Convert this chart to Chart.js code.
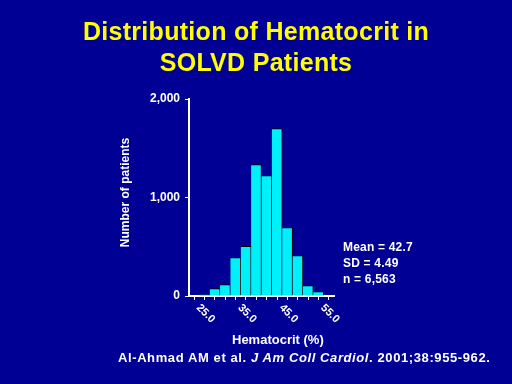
<!DOCTYPE html>
<html>
<head>
<meta charset="utf-8">
<script src="https://cdn.jsdelivr.net/npm/chart.js@4.4.0/dist/chart.umd.min.js"></script>
<style>
    html, body { margin: 0; padding: 0; background: #000094; }
    #wrap {
        position: relative; width: 512px; height: 384px; overflow: hidden;
        font-family: "Liberation Sans", Arial, sans-serif; font-weight: bold; color: #fff;
    }
    #wrap canvas { position: absolute; left: 0; top: 0; }
    .note { position: absolute; white-space: nowrap; }
    #title {
        left: 0; width: 512px; top: 16px; text-align: center; color: #FFFF00;
        font-size: 25px; line-height: 31px; letter-spacing: 0.3px;
    }
    #stats { left: 343px; top: 239px; font-size: 12px; line-height: 16px; letter-spacing: 0.2px; }
    #xtitle { left: 232px; top: 332px; font-size: 13px; line-height: 15px; }
    #cite { left: 118px; top: 350px; font-size: 13px; line-height: 15px; letter-spacing: 0.6px; }
</style>
</head>
<body>
<div id="wrap">
    <canvas id="histChart" width="512" height="384"></canvas>
    <div class="note" id="title"></div>
    <div class="note" id="stats">Mean = 42.7<br>SD = 4.49<br>n = 6,563</div>
    <div class="note" id="xtitle">Hematocrit (%)</div>
    <div class="note" id="cite">Al-Ahmad AM et al. <i>J Am Coll Cardiol</i>. 2001;38:955-962.</div>
</div>
<script>
// Hematocrit bins (%), every 2.5 points
const categories = ['25.0', '27.5', '30.0', '32.5', '35.0', '37.5', '40.0',
                    '42.5', '45.0', '47.5', '50.0', '52.5', '55.0', '57.5'];
// Number of patients per bin
const patientCounts = [null, 15, 75, 115, 390, 505, 1333, 1222, 1700, 695, 410, 105, 45, null];
// Labelled ticks on each axis
const xTickLabels = ['25.0', '35.0', '45.0', '55.0'];
const yTicks = [0, 1000, 2000];
const titleLines = ['Distribution of Hematocrit in', 'SOLVD Patients'];
const yTitle = 'Number of patients';

const FONT = '"Liberation Sans", Arial, sans-serif';

document.getElementById('title').innerHTML = titleLines.join('<br>');

// x labels run down to the right from their tick; y title sits a bit above centre
const extraText = {
    id: 'extraText',
    afterDraw(chart) {
        const ctx = chart.ctx;
        const x = chart.scales.x;
        const area = chart.chartArea;
        ctx.save();
        ctx.fillStyle = '#fff';
        ctx.font = 'bold 11px ' + FONT;
        ctx.textAlign = 'left';
        ctx.textBaseline = 'middle';
        xTickLabels.forEach(lbl => {
            const px = x.getPixelForValue(categories.indexOf(lbl));
            ctx.save();
            ctx.translate(px + 4, area.bottom + 10);
            ctx.rotate(Math.PI / 4);
            ctx.fillText(lbl, 0, 0);
            ctx.restore();
        });

        ctx.font = 'bold 12px ' + FONT;
        ctx.textAlign = 'center';
        ctx.translate(126, (area.top + area.bottom) / 2 - 5);
        ctx.rotate(-Math.PI / 2);
        ctx.fillText(yTitle, 0, 0);
        ctx.restore();
    }
};

new Chart(document.getElementById('histChart'), {
    type: 'bar',
    data: {
        labels: categories,
        datasets: [{
            data: patientCounts,
            backgroundColor: '#00F0FA',
            borderColor: '#000000',
            borderWidth: { top: 1, right: 1, left: 0, bottom: 0 },
            borderSkipped: 'start',
            categoryPercentage: 1,
            barPercentage: 1
        }]
    },
    options: {
        responsive: false,
        animation: false,
        layout: { padding: { top: 99, left: 119, right: 178, bottom: 48 } },
        plugins: {
            legend: { display: false },
            tooltip: { enabled: false },
            title: { display: false }
        },
        scales: {
            x: {
                offset: true,
                ticks: { display: false },
                grid: { offset: false, drawOnChartArea: false, color: '#fff', tickLength: 4 },
                border: { color: '#fff', width: 2 },
                afterFit: s => { s.height = 40; }
            },
            y: {
                min: 0,
                max: 2000,
                afterBuildTicks: s => { s.ticks = yTicks.map(v => ({ value: v })); },
                ticks: {
                    color: '#fff',
                    padding: 5,
                    font: { family: FONT, size: 12, weight: 'bold' },
                    callback: v => v.toLocaleString('en-US')
                },
                grid: { drawOnChartArea: false, color: '#fff', tickLength: 4 },
                border: { color: '#fff', width: 2 },
                afterFit: s => { s.width = 70; }
            }
        }
    },
    plugins: [extraText]
});
</script>
</body>
</html>
